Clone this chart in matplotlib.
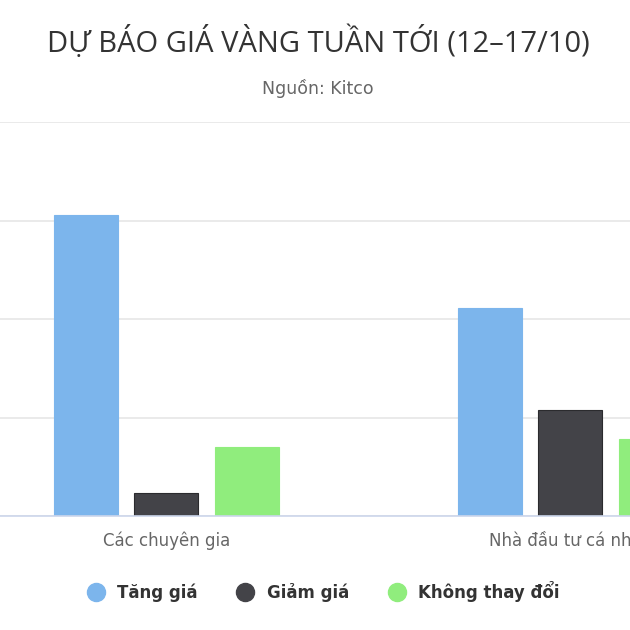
import numpy as np
import matplotlib.pyplot as plt
from matplotlib.lines import Line2D

plt.rcParams['font.family'] = ['DejaVu Sans']

# survey results, % of votes
categories = ['Các chuyên gia', 'Nhà đầu tư cá nhân']
series_names = ['Tăng giá', 'Giảm giá', 'Không thay đổi']
tang_gia = [76.5, 52.8]
giam_gia = [5.9, 26.8]
khong_doi = [17.6, 19.6]
colors = ['#7cb5ec', '#434348', '#90ed7d']
yticks = [0, 25, 50, 75, 100]

fig = plt.figure(figsize=(6.3, 6.3), dpi=100)
# the picture is a crop of a wider chart, so the axes run off the left and right
ax = fig.add_axes([0, 114 / 630, 1, 394 / 630])

x = np.arange(len(categories))
w = 64 / 404
off = 80.5 / 404
for i, (vals, c) in enumerate(zip([tang_gia, giam_gia, khong_doi], colors)):
    ec = '#2b2b2e' if i == 1 else c
    ax.bar(x + (i - 1) * off, vals, w, color=c, edgecolor=ec, linewidth=0.8, zorder=3)

ax.set_xlim((0 - 166.5) / 404, (630 - 166.5) / 404)
ax.set_ylim(0, 100)
ax.set_yticks(yticks)
ax.yaxis.grid(True, color='#e6e6e6', linewidth=1.2, zorder=0)
ax.tick_params(left=False, labelleft=False, bottom=False)
for s in ['top', 'right', 'left']:
    ax.spines[s].set_visible(False)
ax.spines['bottom'].set_color('#ccd6eb')
ax.spines['bottom'].set_linewidth(1.2)
ax.spines['bottom'].set_zorder(4)
ax.set_xticks(x)
ax.set_xticklabels(categories, fontsize=12, color='#666666')
ax.tick_params(axis='x', pad=8)

fig.text(0.505, 1 - 42 / 630, 'DỰ BÁO GIÁ VÀNG TUẦN TỚI (12–17/10)', ha='center', va='center',
         fontsize=21, color='#333333', family=['Open Sans', 'DejaVu Sans'])
fig.text(0.505, 1 - 88 / 630, 'Nguồn: Kitco', ha='center', va='center',
         fontsize=12.5, color='#666666')

handles = [Line2D([], [], marker='o', linestyle='none', markersize=13,
                  markerfacecolor=c, markeredgecolor=c) for c in colors]
fig.legend(handles, series_names, loc='center', bbox_to_anchor=(0.507, 1 - 591 / 630),
           ncol=3, frameon=False, handletextpad=0.3, columnspacing=1.85,
           prop={'weight': 'bold', 'size': 12}, labelcolor='#333333')

fig.savefig('out.png', dpi=100, facecolor='white')
